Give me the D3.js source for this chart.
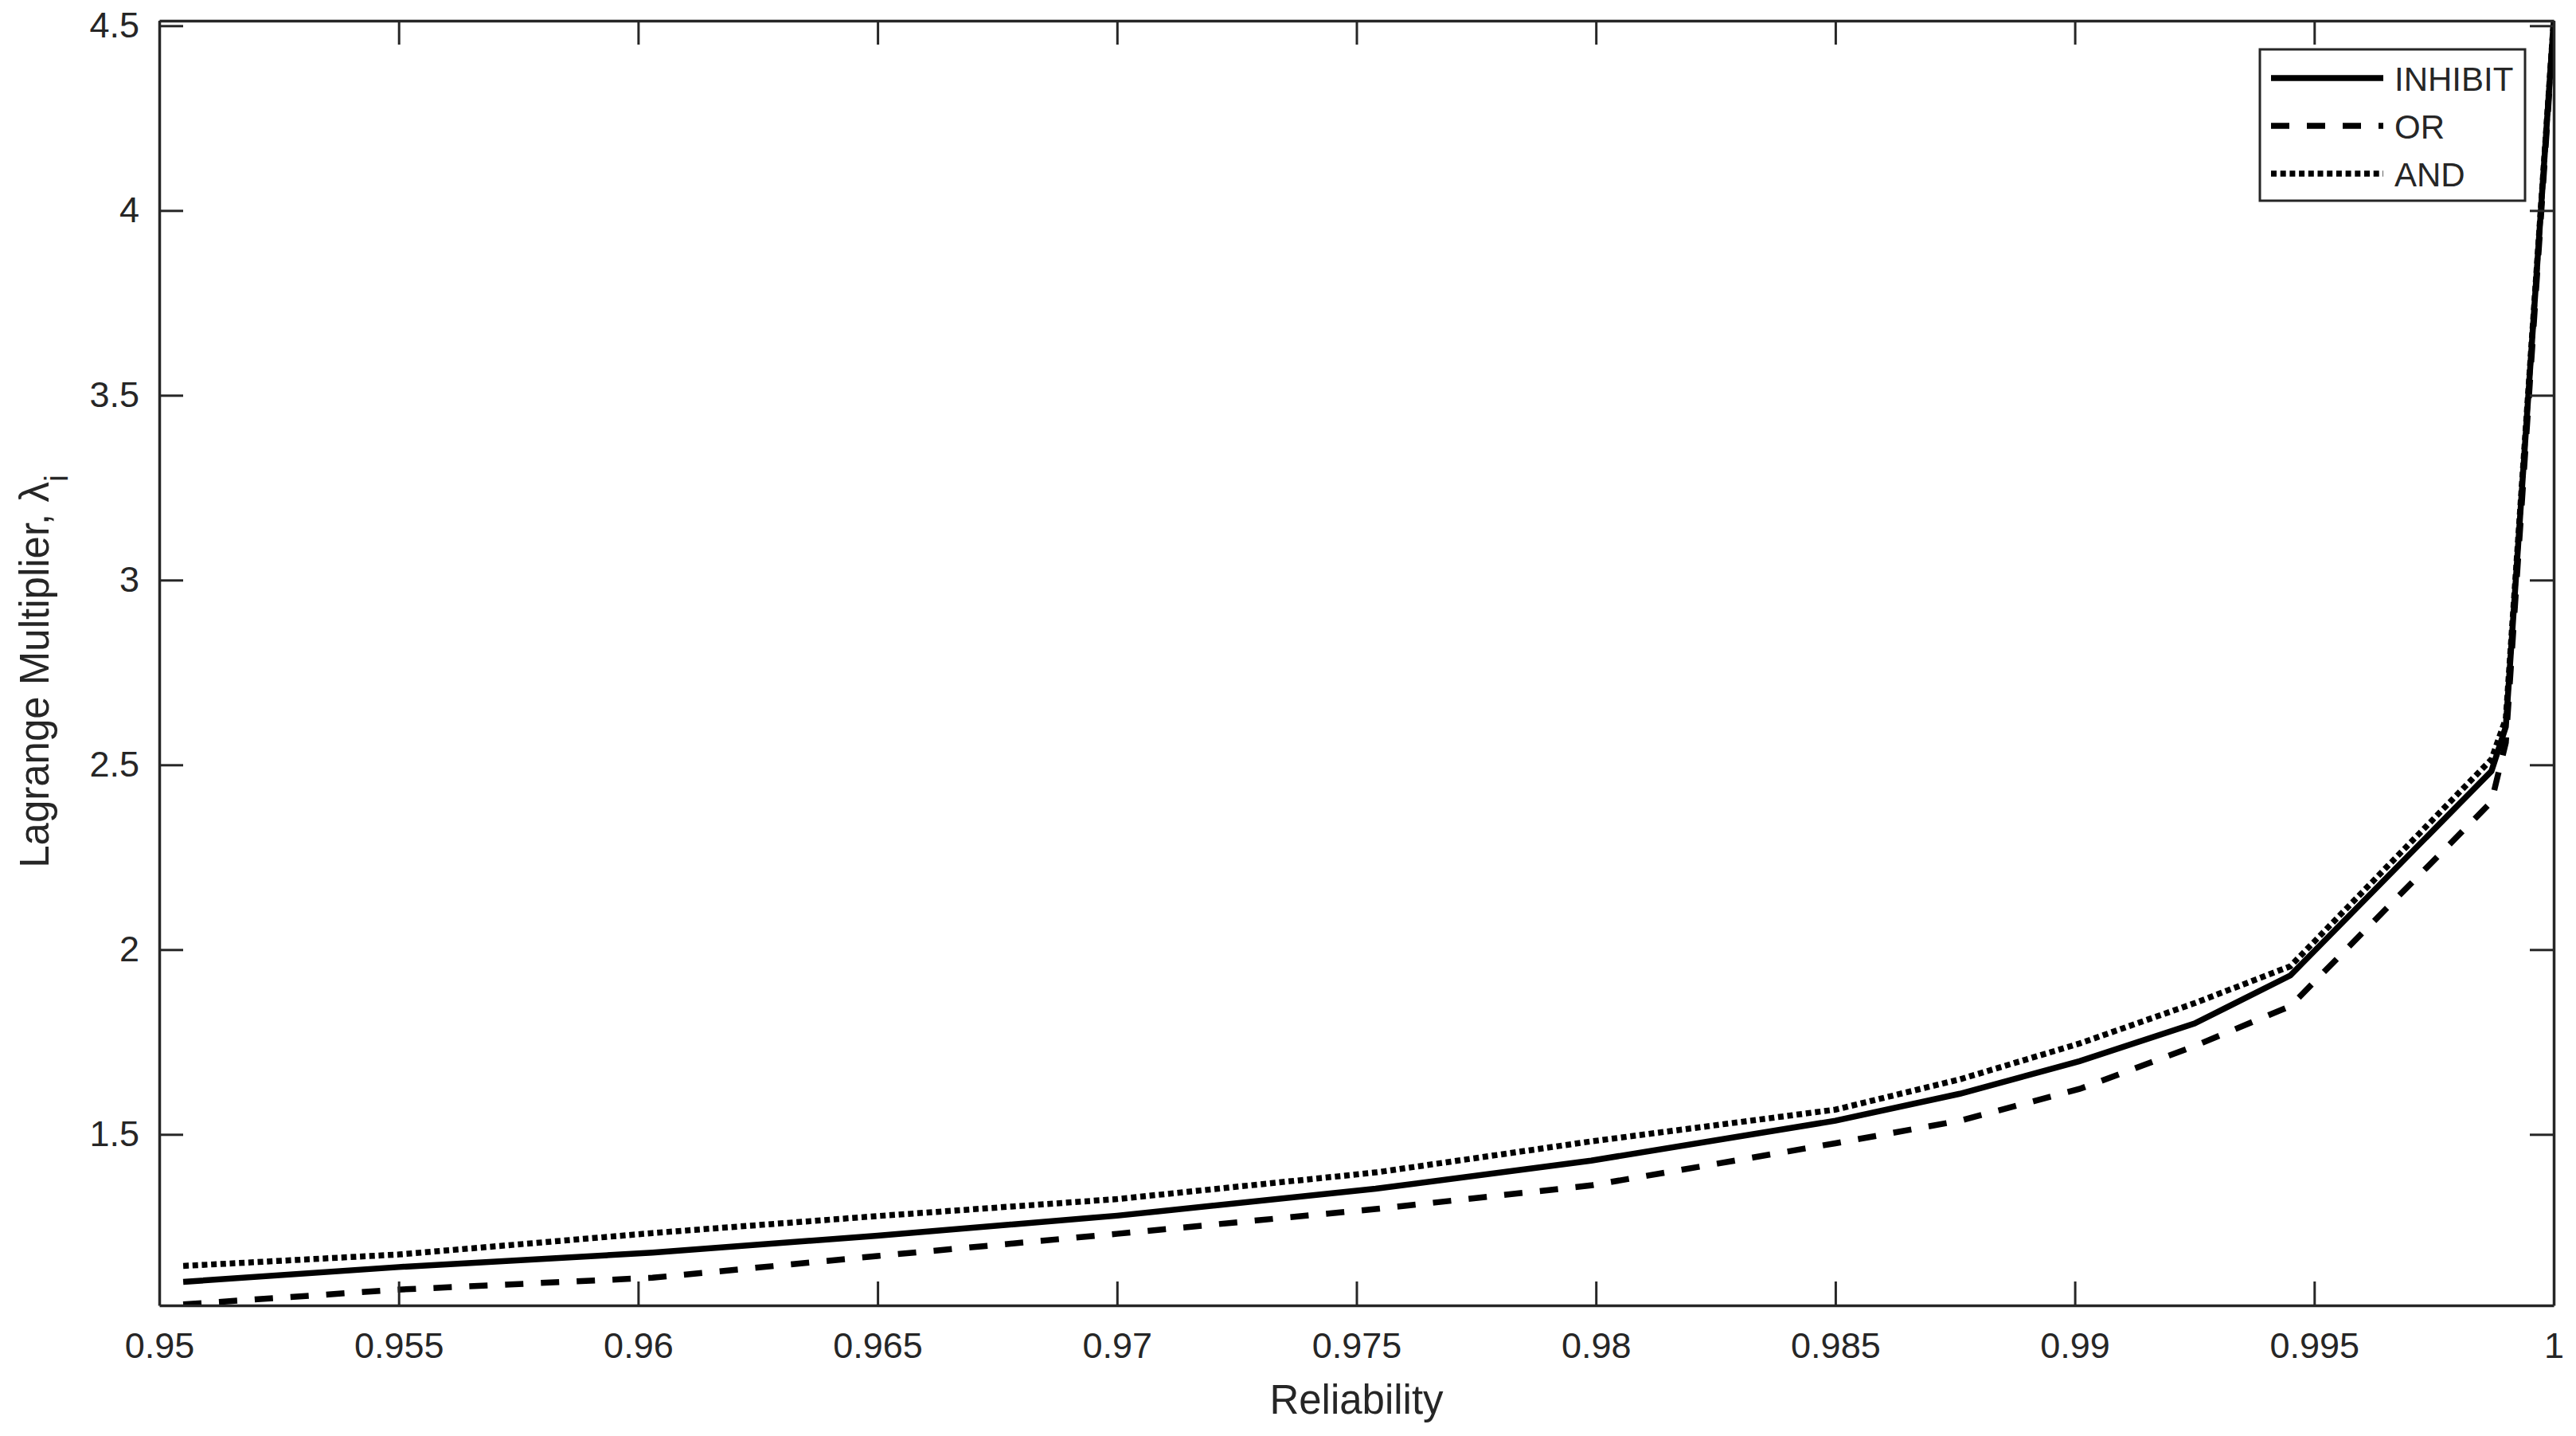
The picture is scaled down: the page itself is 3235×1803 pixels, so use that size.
<!DOCTYPE html>
<html>
<head>
<meta charset="utf-8">
<script src="https://cdn.jsdelivr.net/npm/d3@7/dist/d3.min.js"></script>
<style>
  html, body { margin: 0; padding: 0; background: #fff; }
  svg { display: block; }
  text { font-family: "Liberation Sans", Arial, sans-serif; fill: #262626; }
</style>
</head>
<body>
<script>
// ---- data ----
const reliability = [0.9505, 0.955, 0.9603, 0.965, 0.97, 0.9754, 0.9799, 0.985, 0.9876, 0.9901, 0.9925, 0.9945, 0.9987, 0.999, 1.0];
const inhibit = [1.101, 1.141, 1.180, 1.226, 1.280, 1.353, 1.429, 1.537, 1.610, 1.698, 1.800, 1.930, 2.483, 2.603, 4.51];
const orGate  = [1.040, 1.080, 1.112, 1.171, 1.231, 1.298, 1.362, 1.476, 1.537, 1.623, 1.739, 1.847, 2.400, 2.560, 4.50];
const andGate = [1.144, 1.175, 1.233, 1.279, 1.325, 1.397, 1.481, 1.567, 1.649, 1.746, 1.855, 1.955, 2.515, 2.625, 4.514];
const seriesNames = ["INHIBIT", "OR", "AND"];
const xTicks = [0.95, 0.955, 0.96, 0.965, 0.97, 0.975, 0.98, 0.985, 0.99, 0.995, 1];
const xTickLabels = ["0.95", "0.955", "0.96", "0.965", "0.97", "0.975", "0.98", "0.985", "0.99", "0.995", "1"];
const yTicks = [1.5, 2, 2.5, 3, 3.5, 4, 4.5];
const yTickLabels = ["1.5", "2", "2.5", "3", "3.5", "4", "4.5"];
const xDomain = [0.95, 1.0];
const yDomain = [1.0373, 4.5136];
const xTitle = "Reliability";
const yTitleMain = "Lagrange Multiplier, λ";
const yTitleSub = "i";

// ---- layout ----
const W = 3235, H = 1803;
const L = 200, R = 3207, T = 26, B = 1639;
const axisColor = "#262626";

const svg = d3.select("body").append("svg").attr("width", W).attr("height", H);
svg.append("rect").attr("width", W).attr("height", H).attr("fill", "#fff");

const x = d3.scaleLinear().domain(xDomain).range([L, R]);
const y = d3.scaleLinear().domain(yDomain).range([B, T]);

svg.append("defs").append("clipPath").attr("id", "clip")
  .append("rect").attr("x", L).attr("y", T).attr("width", R - L).attr("height", B - T);

// ---- data lines ----
const styles = [
  { dash: null },
  { dash: "23,22" },
  { dash: "7,4.7" }
];
const seriesData = [inhibit, orGate, andGate];
const line = d3.line().x(d => x(d[0])).y(d => y(d[1]));
const gLines = svg.append("g").attr("clip-path", "url(#clip)");
seriesData.forEach((vals, i) => {
  const pts = reliability.map((r, k) => [r, vals[k]]);
  gLines.append("path")
    .datum(pts)
    .attr("d", line)
    .attr("fill", "none")
    .attr("stroke", "#000")
    .attr("stroke-width", 7.5)
    .attr("stroke-linejoin", "miter")
    .attr("stroke-linecap", "butt")
    .attr("stroke-dasharray", styles[i].dash);
});

// ---- axes ----
function styleAxis(g) {
  g.select(".domain").attr("stroke", axisColor).attr("stroke-width", 3.5);
  g.selectAll(".tick line").attr("stroke", axisColor).attr("stroke-width", 3);
  g.selectAll(".tick text").attr("fill", axisColor).style("font-size", "45px")
    .style("font-family", '"Liberation Sans", Arial, sans-serif');
}

svg.append("g").attr("transform", `translate(0,${B})`)
  .call(d3.axisBottom(x).tickValues(xTicks).tickFormat((d, i) => xTickLabels[i])
    .tickSizeInner(-30).tickSizeOuter(0).tickPadding(34))
  .call(styleAxis);

svg.append("g").attr("transform", `translate(0,${T})`)
  .call(d3.axisTop(x).tickValues(xTicks).tickFormat("")
    .tickSizeInner(-30).tickSizeOuter(0))
  .call(styleAxis);

svg.append("g").attr("transform", `translate(${L},0)`)
  .call(d3.axisLeft(y).tickValues(yTicks).tickFormat((d, i) => yTickLabels[i])
    .tickSizeInner(-30).tickSizeOuter(0).tickPadding(25))
  .call(styleAxis);

svg.append("g").attr("transform", `translate(${R},0)`)
  .call(d3.axisRight(y).tickValues(yTicks).tickFormat("")
    .tickSizeInner(-30).tickSizeOuter(0))
  .call(styleAxis);

// ---- axis titles ----
svg.append("text")
  .attr("x", (L + R) / 2).attr("y", 1775)
  .attr("text-anchor", "middle")
  .style("font-size", "51px")
  .text(xTitle);

const yt = svg.append("text")
  .attr("transform", `translate(61,843) rotate(-90)`)
  .attr("text-anchor", "middle")
  .style("font-size", "51px");
yt.append("tspan").text(yTitleMain);
yt.append("tspan").attr("dy", 24).style("font-size", "40px").text(yTitleSub);

// ---- legend ----
const lg = svg.append("g");
lg.append("rect")
  .attr("x", 2838).attr("y", 62).attr("width", 3171 - 2838).attr("height", 252 - 62)
  .attr("fill", "#fff").attr("stroke", axisColor).attr("stroke-width", 3);
seriesNames.forEach((name, i) => {
  const ly = 98 + i * 60;
  lg.append("line")
    .attr("x1", 2852).attr("x2", 2993).attr("y1", ly).attr("y2", ly)
    .attr("stroke", "#000").attr("stroke-width", 7.5)
    .attr("stroke-dasharray", styles[i].dash);
  lg.append("text")
    .attr("x", 3007).attr("y", ly + 16)
    .style("font-size", "42px")
    .attr("fill", "#000")
    .text(name);
});
</script>
</body>
</html>
